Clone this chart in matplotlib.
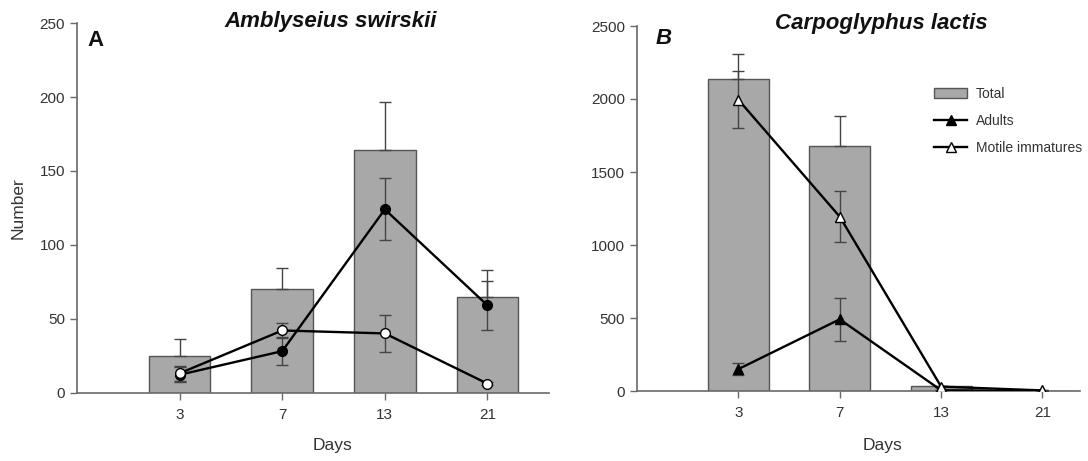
import matplotlib
matplotlib.use("Agg")
import matplotlib.pyplot as plt
import numpy as np

plt.rcParams['font.family'] = ['Liberation Sans', 'DejaVu Sans']

days = ["3", "7", "13", "21"]

# Panel A: Amblyseius swirskii
total_A = [25, 70, 164, 65]
total_A_err = [11, 14, 33, 18]
adults_A = [12, 28, 124, 59]
adults_A_err = [5, 9.5, 21, 16.5]
immat_A = [13, 42, 40, 6]
immat_A_err = [5, 5, 12.5, 1]

# Panel B: Carpoglyphus lactis
total_B = [2135, 1680, 35, 3]
total_B_err = [175, 205, 0, 0]
adults_B = [150, 491, 5, 1]
adults_B_err = [43, 147, 0, 0]
immat_B = [1995, 1194, 30, 4]
immat_B_err = [195, 175, 0, 0]

W, H = 1088, 461
fig = plt.figure(figsize=(W / 100, H / 100), dpi=100)

def fx(px):
    return px / W

def fy(py):
    return 1 - py / H

axA = fig.add_axes([fx(77), fy(392.5), fx(549 - 77), (392.5 - 23.3) / H])
axB = fig.add_axes([fx(637), fy(391), fx(1080 - 637), (391 - 26) / H])

BAR = '#a8a8a8'
EDGE = '#555555'
ERR = '#444444'
AX = '#6a6a6a'
TXT = '#333333'

pos = np.arange(1, len(days) + 1)

def style(ax, ymax, step, xmax):
    for s in ['top', 'right']:
        ax.spines[s].set_visible(False)
    for s in ['left', 'bottom']:
        ax.spines[s].set_color(AX)
        ax.spines[s].set_linewidth(1.2)
    ax.set_xlim(0, xmax)
    ax.set_ylim(0, ymax)
    ax.set_yticks(np.arange(0, ymax + 1, step))
    ax.set_xticks(pos)
    ax.set_xticklabels(days)
    ax.tick_params(axis='both', colors=AX, labelcolor=TXT, labelsize=11,
                   length=5, width=1.0, direction='out')
    ax.tick_params(axis='x', pad=6)

def draw(ax, total, total_err, ad, ad_err, im, im_err, marker, ms):
    ax.bar(pos, total, width=0.6, color=BAR, edgecolor=EDGE, linewidth=1.0,
           zorder=2, label='Total')
    ax.errorbar(pos, total, yerr=[np.zeros(len(total)), total_err], fmt='none',
                ecolor=ERR, elinewidth=1.0, capsize=4, capthick=1.0, zorder=3)
    ax.errorbar(pos, ad, yerr=ad_err, fmt='none', ecolor=ERR, elinewidth=1.0,
                capsize=4, capthick=1.0, zorder=4)
    ax.errorbar(pos, im, yerr=im_err, fmt='none', ecolor=ERR, elinewidth=1.0,
                capsize=4, capthick=1.0, zorder=4)
    ax.plot(pos, ad, color='black', lw=1.7, marker=marker, ms=ms,
            mfc='black', mec='black', zorder=5, label='Adults')
    ax.plot(pos, im, color='black', lw=1.7, marker=marker, ms=ms,
            mfc='white', mec='black', mew=1.0, zorder=6, label='Motile immatures')

draw(axA, total_A, total_A_err, adults_A, adults_A_err, immat_A, immat_A_err, 'o', 7)
style(axA, 250, 50, 4.6)

draw(axB, total_B, total_B_err, adults_B, adults_B_err, immat_B, immat_B_err, '^', 6.5)
style(axB, 2500, 500, 4.37)

# titles and panel letters
fig.text(fx(331), fy(22), 'Amblyseius swirskii', fontsize=16, fontweight='bold',
         fontstyle='italic', ha='center', va='center', color='#111111')
fig.text(fx(881), fy(24), 'Carpoglyphus lactis', fontsize=16, fontweight='bold',
         fontstyle='italic', ha='center', va='center', color='#111111')
fig.text(fx(95), fy(40), 'A', fontsize=16, fontweight='bold', ha='center',
         va='center', color='#111111')
fig.text(fx(664), fy(38), 'B', fontsize=16, fontweight='bold', fontstyle='italic',
         ha='center', va='center', color='#111111')

# axis labels
fig.text(fx(18), fy(208), 'Number', fontsize=12.5, rotation=90, ha='center',
         va='center', color=TXT)
fig.text(fx(333), fy(445), 'Days', fontsize=12.5, ha='center', va='center', color=TXT)
fig.text(fx(883), fy(445), 'Days', fontsize=12.5, ha='center', va='center', color=TXT)

# legend
handles, labels = axB.get_legend_handles_labels()
order = [labels.index('Total'), labels.index('Adults'), labels.index('Motile immatures')]
leg = axB.legend([handles[i] for i in order], [labels[i] for i in order],
                 loc='upper left', bbox_to_anchor=(fx(927), fy(80)),
                 bbox_transform=fig.transFigure, frameon=False, fontsize=10,
                 handlelength=2.4, handleheight=0.8, labelspacing=0.95,
                 numpoints=1, handletextpad=0.6, borderpad=0)
for t in leg.get_texts():
    t.set_color(TXT)

fig.savefig('out.png', dpi=100)
